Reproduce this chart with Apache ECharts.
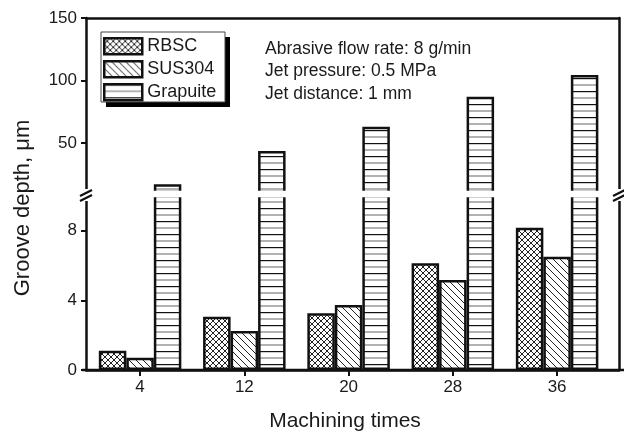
<!DOCTYPE html>
<html>
<head>
<meta charset="utf-8">
<script src="https://cdn.jsdelivr.net/npm/echarts@6/dist/echarts.min.js"></script>
<style>
html,body{margin:0;padding:0;background:#fff;}
#chart{width:624px;height:436px;}
</style>
</head>
<body>
<div id="chart"></div>
<script>
// ---- data ----
const categories = [4, 12, 20, 28, 36];
const rbsc = [1.11, 3.06, 3.26, 6.13, 8.18];
const sus304 = [0.71, 2.24, 3.74, 5.17, 6.51];
const graphite = [17.1, 43.7, 63.2, 87.1, 104.5];
const lowerTicks = [0, 4, 8];
const upperTicks = [50, 100, 150];
const seriesNames = ['RBSC', 'SUS304', 'Grapuite'];
const notes = ['Abrasive flow rate: 8 g/min', 'Jet pressure: 0.5 MPa', 'Jet distance: 1 mm'];
const xTitle = 'Machining times';
const yTitle = 'Groove depth, \u03bcm';

// ---- hatch patterns ----
function makePattern(kind) {
  const c = document.createElement('canvas');
  let w = 6, h = 6;
  if (kind === 'back') { w = 7; h = 7; }
  if (kind === 'horiz') { w = 8; h = 13; }
  c.width = w; c.height = h;
  const ctx = c.getContext('2d');
  ctx.fillStyle = '#fff';
  ctx.fillRect(0, 0, w, h);
  ctx.lineWidth = 1;
  ctx.strokeStyle = '#222';
  if (kind === 'cross' || kind === 'back') {
    for (let k = -w; k <= w; k += w) {
      ctx.beginPath(); ctx.moveTo(k, 0); ctx.lineTo(k + w, h); ctx.stroke();
    }
  }
  if (kind === 'cross') {
    for (let k = -w; k <= w; k += w) {
      ctx.beginPath(); ctx.moveTo(k + w, 0); ctx.lineTo(k, h); ctx.stroke();
    }
  }
  if (kind === 'horiz') {
    ctx.strokeStyle = '#111';
    ctx.lineWidth = 1.2;
    ctx.beginPath(); ctx.moveTo(0, 0.6); ctx.lineTo(w, 0.6); ctx.stroke();
    ctx.strokeStyle = '#999';
    ctx.lineWidth = 1.5;
    ctx.beginPath(); ctx.moveTo(0, 7); ctx.lineTo(w, 7); ctx.stroke();
  }
  return { image: c, repeat: 'repeat' };
}
const fills = [makePattern('cross'), makePattern('back'), makePattern('horiz')];
const dataSets = [rbsc, sus304, graphite];

const chart = echarts.init(document.getElementById('chart'), null, { renderer: 'canvas' });

const TXT = '#1a1a1a';
const LINE = '#111';
const FONT = 'Liberation Sans, Arial, sans-serif';
const xMin = -0.15, xMax = 40.75;
const upTop = 18, upBottom = 192, lowTop = 196, lowBottom = 370;

function xAxisDef(gridIndex, bottom) {
  return {
    gridIndex: gridIndex, type: 'value', min: xMin, max: xMax,
    position: bottom ? 'bottom' : 'top',
    axisLine: { show: true, onZero: false, lineStyle: { color: LINE, width: 2.5 } },
    axisTick: bottom ? { show: true, customValues: categories, length: 6, lineStyle: { color: LINE, width: 2 } } : { show: false },
    axisLabel: bottom ? { show: true, customValues: categories, fontSize: 17, margin: 9, color: TXT, fontFamily: FONT } : { show: false },
    splitLine: { show: false }
  };
}
function yAxisDef(gridIndex, min, max, ticks, right) {
  return {
    gridIndex: gridIndex, type: 'value', min: min, max: max,
    position: right ? 'right' : 'left',
    axisLine: { show: true, onZero: false, lineStyle: { color: LINE, width: 2.5 } },
    axisTick: right ? { show: false } : { show: true, customValues: ticks, length: 5, lineStyle: { color: LINE, width: 2 } },
    axisLabel: right ? { show: false } : { show: true, customValues: ticks, fontSize: 17, margin: 9, color: TXT, fontFamily: FONT },
    splitLine: { show: false }
  };
}

const series = [];
[[0, 0], [1, 1]].forEach(function (ax) {
  dataSets.forEach(function (arr, s) {
    series.push({
      type: 'bar',
      name: seriesNames[s],
      xAxisIndex: ax[0], yAxisIndex: ax[1],
      data: categories.map(function (c, i) { return [c, arr[i]]; }),
      barWidth: 27.5,
      barGap: '0%',
      clip: true,
      silent: true,
      itemStyle: { color: fills[s], borderColor: LINE, borderWidth: 2.5 }
    });
  });
});

const breakY = 195;
function slashes(x0) {
  return [
    { type: 'rect', shape: { x: x0 + 3, y: 189, width: 6, height: 12 }, style: { fill: '#fff' }, z: 10 },
    { type: 'line', shape: { x1: x0, y1: breakY + 1, x2: x0 + 12, y2: breakY - 5 }, style: { stroke: LINE, lineWidth: 2.2 }, z: 11 },
    { type: 'line', shape: { x1: x0, y1: breakY + 6, x2: x0 + 12, y2: breakY }, style: { stroke: LINE, lineWidth: 2.2 }, z: 11 }
  ];
}

const graphics = [
  // gap between the two parts of the broken axis (hides clipped bar edges)
  { type: 'rect', shape: { x: 88, y: upBottom - 1.3, width: 529, height: lowTop - upBottom + 2.6 }, style: { fill: '#fff' }, z: 10 },
  // legend frame with shadow
  { type: 'rect', shape: { x: 106, y: 37, width: 124, height: 70 }, style: { fill: '#000' }, z: 3 },
  { type: 'rect', shape: { x: 101, y: 32, width: 124, height: 70 }, style: { fill: '#fff', stroke: '#444', lineWidth: 1 }, z: 3 },
  // bottom axis extension
  { type: 'line', shape: { x1: 82, y1: lowBottom, x2: 624, y2: lowBottom }, style: { stroke: LINE, lineWidth: 2.5 }, z: 9 },
  // axis titles
  { type: 'text', x: 345, y: 421, style: { text: xTitle, fontSize: 21, fill: TXT, align: 'center', verticalAlign: 'middle', fontFamily: FONT } },
  { type: 'text', x: 23, y: 208, rotation: Math.PI / 2, style: { text: yTitle, fontSize: 22, fill: TXT, align: 'center', verticalAlign: 'middle', fontFamily: FONT } }
].concat(slashes(80), slashes(613)).concat(notes.map(function (t, i) {
  return { type: 'text', x: 265, y: 49 + i * 22.5, style: { text: t, fontSize: 17.5, fill: TXT, align: 'left', verticalAlign: 'middle', fontFamily: FONT }, z: 5 };
}));

chart.setOption({
  animation: false,
  backgroundColor: '#fff',
  grid: [
    { left: 86, right: 5, top: upTop, height: upBottom - upTop, outerBoundsMode: 'none', containLabel: false },
    { left: 86, right: 5, top: lowTop, height: lowBottom - lowTop, outerBoundsMode: 'none', containLabel: false }
  ],
  xAxis: [xAxisDef(0, false), xAxisDef(1, true)],
  yAxis: [
    yAxisDef(0, 11, 150, upperTicks, false),
    yAxisDef(1, 0, 10, lowerTicks, false),
    yAxisDef(0, 11, 150, null, true),
    yAxisDef(1, 0, 10, null, true)
  ],
  legend: {
    orient: 'vertical', left: 103, top: 37, z: 6, padding: 0,
    itemWidth: 38, itemHeight: 16, itemGap: 4.5,
    selectedMode: false,
    textStyle: { fontSize: 18, color: TXT, fontFamily: FONT },
    data: seriesNames.map(function (n, s) {
      return { name: n, icon: 'rect', itemStyle: { color: fills[s], borderColor: LINE, borderWidth: 2.5 } };
    })
  },
  graphic: { elements: graphics },
  series: series
});
</script>
</body>
</html>
